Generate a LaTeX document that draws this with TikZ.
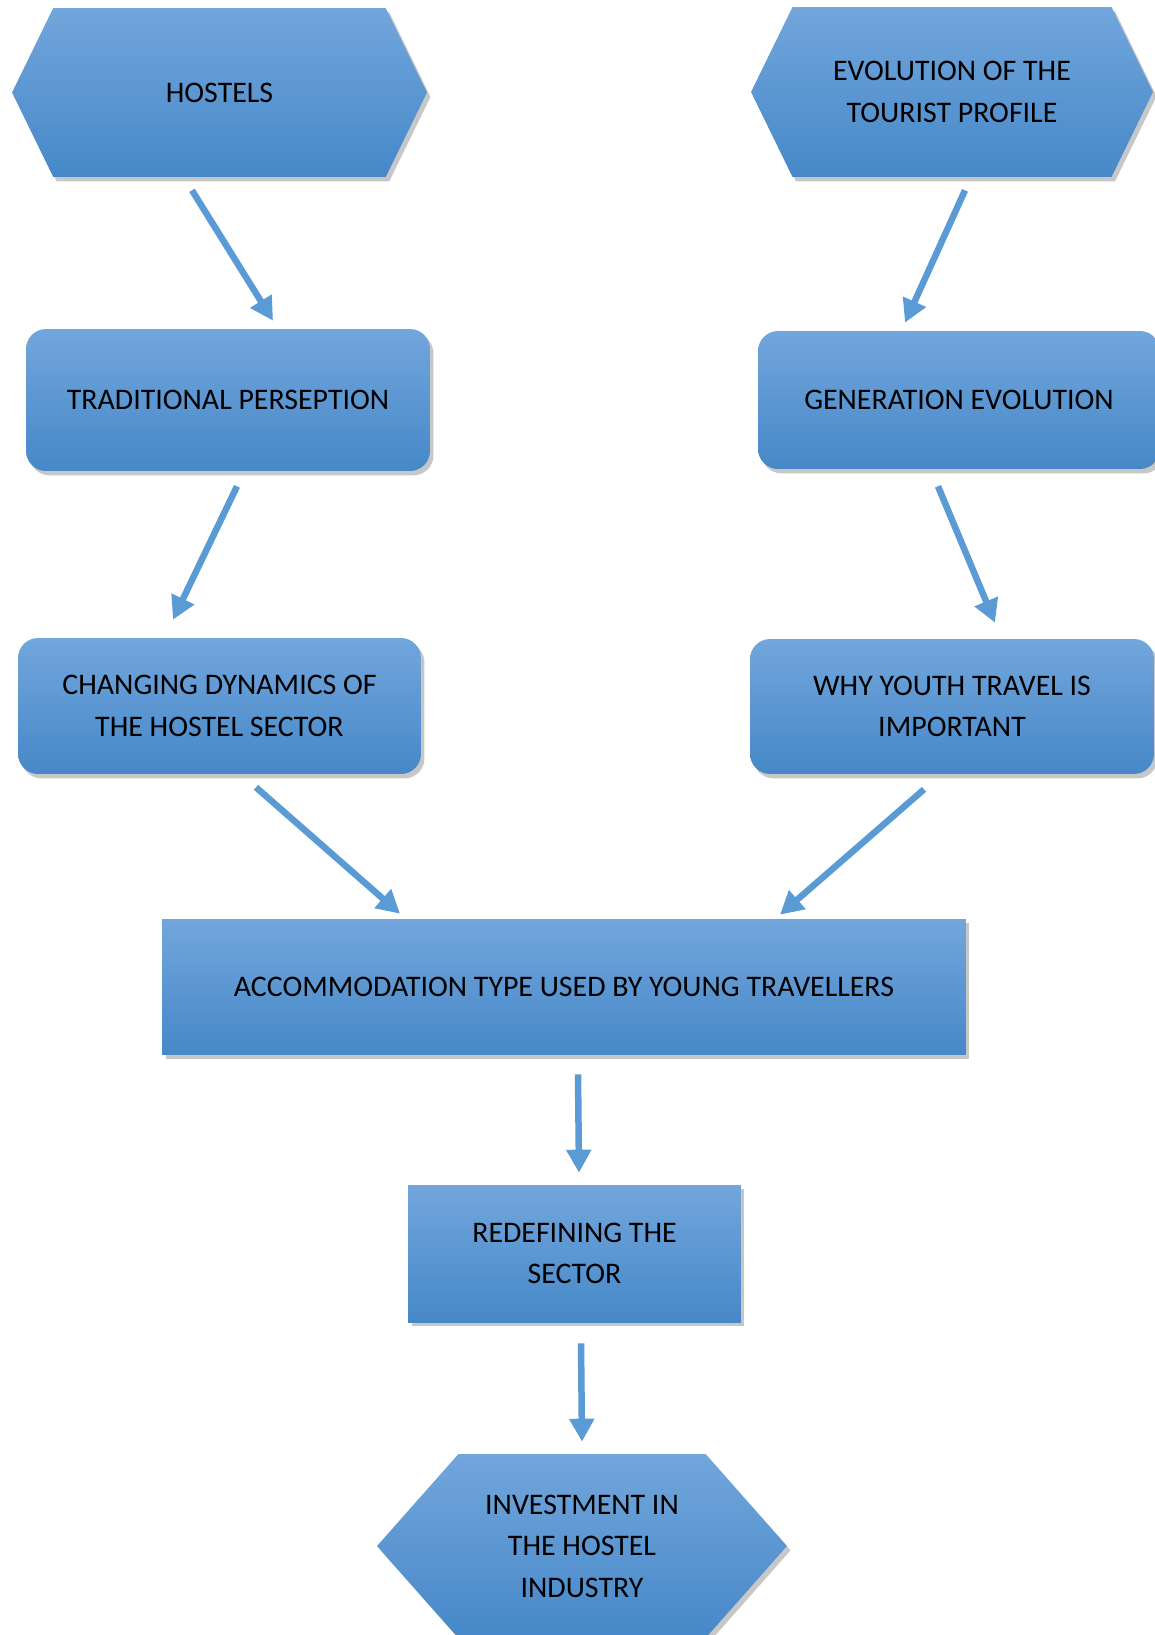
\documentclass[tikz,border=0pt]{standalone}
\usepackage{fontspec}
\setmainfont{Carlito}
\usetikzlibrary{arrows.meta, positioning, shapes.symbols, shadows, calc}

\definecolor{boxtop}{RGB}{114,166,220}
\definecolor{boxmid}{RGB}{91,155,213}
\definecolor{boxbot}{RGB}{70,136,200}
\definecolor{arrowblue}{RGB}{91,155,213}

\tikzset{
  box/.style={draw=none, top color=boxtop, middle color=boxmid, bottom color=boxbot,
    align=center, text=black, inner sep=0pt,
    drop shadow={shadow xshift=2pt, shadow yshift=-2.5pt, opacity=0.22, fill=black}},
  roundbox/.style={box, rectangle, rounded corners=0.4cm},
  flatbox/.style={box, rectangle},
  hexbox/.style={box, signal, signal to=west and east},
  flow/.style={draw=arrowblue, line width=3.7pt, -{Triangle[length=0.46cm, width=0.48cm]}}
}

\begin{document}
\begin{tikzpicture}[x=0.02cm, y=-0.02cm, font=\fontsize{17}{23.6}\selectfont]
\useasboundingbox (0,0) rectangle (1154,1635);

% left column
\node[hexbox, signal pointer angle=128, minimum width=8.3cm, minimum height=3.38cm]
  (hostels) at (219.5,92.5) {HOSTELS};
\node[roundbox, minimum width=8.08cm, minimum height=2.84cm]
  (trad) at (228,400) {TRADITIONAL PERSEPTION};
\node[roundbox, minimum width=8.06cm, minimum height=2.72cm]
  (change) at (219.5,706) {CHANGING DYNAMICS OF\\THE HOSTEL SECTOR};

% right column
\node[hexbox, signal pointer angle=128, minimum width=8.04cm, minimum height=3.4cm]
  (tourist) at (952,92) {EVOLUTION OF THE\\TOURIST PROFILE};
\node[roundbox, minimum width=8.04cm, minimum height=2.76cm]
  (gen) at (959,400) {GENERATION EVOLUTION};
\node[roundbox, minimum width=8.08cm, minimum height=2.7cm]
  (youth) at (952,706.5) {WHY YOUTH TRAVEL IS\\IMPORTANT};

% bottom
\node[flatbox, minimum width=16.08cm, minimum height=2.72cm]
  (accom) at (564,987) {ACCOMMODATION TYPE USED BY YOUNG TRAVELLERS};
\node[flatbox, minimum width=6.66cm, minimum height=2.74cm]
  (redef) at (574.5,1253.5) {REDEFINING THE\\SECTOR};
\node[hexbox, signal pointer angle=97, minimum width=8.2cm, minimum height=3.68cm]
  (invest) at (582,1546) {INVESTMENT IN\\THE HOSTEL\\INDUSTRY};

% arrows
\foreach \from/\fx/\fy/\to/\tx/\ty in {
    hostels/-27.5/13/trad/45/-8,
    tourist/13/13/gen/-54/-8,
    trad/9/15/change/-46.5/-18,
    gen/-21/17/youth/43/-16,
    change/36.5/13/accom/-164/-5,
    youth/-28/15/accom/216/-4,
    accom/14/19/redef/4.5/-12,
    redef/6.5/21/invest/0/-12} {
  \draw[flow] ($(\from.south)+(\fx,\fy)$) -- ($(\to.north)+(\tx,\ty)$);
}
\end{tikzpicture}
\end{document}
